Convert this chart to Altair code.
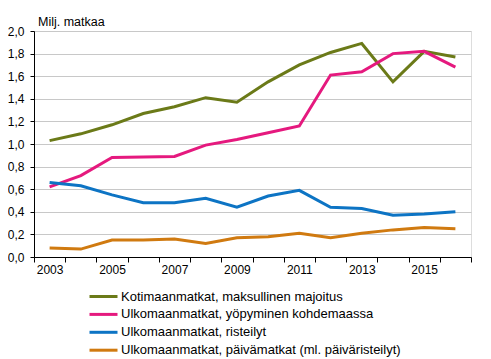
import altair as alt
import pandas as pd

years = list(range(2003, 2017))
series_names = [
    "Kotimaanmatkat, maksullinen majoitus",
    "Ulkomaanmatkat, yöpyminen kohdemaassa",
    "Ulkomaanmatkat, risteilyt",
    "Ulkomaanmatkat, päivämatkat (ml. päiväristeilyt)",
]
kotimaan = [1.03, 1.09, 1.17, 1.27, 1.33, 1.41, 1.37, 1.55, 1.70, 1.81, 1.89, 1.55, 1.82, 1.77]
ulk_yopyminen = [0.62, 0.72, 0.88, 0.885, 0.89, 0.99, 1.04, 1.10, 1.16, 1.61, 1.64, 1.80, 1.82, 1.68]
ulk_risteilyt = [0.66, 0.63, 0.55, 0.48, 0.48, 0.52, 0.44, 0.54, 0.59, 0.44, 0.43, 0.37, 0.38, 0.40]
ulk_paiva = [0.08, 0.07, 0.15, 0.15, 0.16, 0.12, 0.17, 0.18, 0.21, 0.17, 0.21, 0.24, 0.26, 0.25]
colors = ["#6b7a18", "#e5197e", "#0d74c4", "#d07a10"]

all_values = [kotimaan, ulk_yopyminen, ulk_risteilyt, ulk_paiva]
rows = []
for name, vals in zip(series_names, all_values):
    for y, v in zip(years, vals):
        rows.append({"vuosi": y, "arvo": v, "sarja": name})
df = pd.DataFrame(rows)

tick_values = [y - 0.5 for y in years] + [years[-1] + 0.5] + [y for y in years if y % 2 == 1]
font = "Liberation Sans"

chart = alt.Chart(df).mark_line(strokeWidth=3).encode(
    x=alt.X(
        "vuosi:Q",
        scale=alt.Scale(domain=[2002.5, 2016.5], nice=False, zero=False),
        axis=alt.Axis(
            title=None,
            values=tick_values,
            grid=False,
            labelExpr="datum.value % 1 === 0 ? format(datum.value, 'd') : ''",
            tickOpacity={"condition": {"test": "datum.value % 1 === 0", "value": 0}, "value": 1},
            tickSize=5,
            labelPadding=2,
            labelFontSize=12,
            labelFont=font,
            labelColor="#000000",
            domainColor="#000000",
            tickColor="#000000",
            labelOverlap=False,
        ),
    ),
    y=alt.Y(
        "arvo:Q",
        scale=alt.Scale(domain=[0, 2.0], nice=False),
        axis=alt.Axis(
            title=None,
            values=[0, 0.2, 0.4, 0.6, 0.8, 1.0, 1.2, 1.4, 1.6, 1.8, 2.0],
            format=".1f",
            labelExpr="replace(datum.label, '.', ',')",
            tickSize=4,
            labelPadding=6,
            labelFontSize=12,
            labelFont=font,
            labelColor="#000000",
            domainColor="#000000",
            tickColor="#000000",
            gridColor="#c8c8c8",
            gridWidth=1,
        ),
    ),
    color=alt.Color(
        "sarja:N",
        scale=alt.Scale(domain=series_names, range=colors),
        sort=series_names,
        legend=alt.Legend(
            title=None,
            orient="none",
            legendX=61,
            legendY=257,
            direction="vertical",
            symbolType="M-2,0L2,0",
            symbolSize=196,
            symbolStrokeWidth=3,
            labelFont=font,
            labelFontSize=13,
            labelColor="#000000",
            labelOffset=9,
            rowPadding=1.9,
            labelLimit=400,
        ),
    ),
).properties(
    width=437,
    height=226,
    title=alt.TitleParams(
        "Milj. matkaa",
        anchor="start",
        frame="group",
        font=font,
        fontSize=12.5,
        fontWeight="normal",
        color="#000000",
        dx=4,
        dy=11,
        offset=8,
    ),
    padding={"left": 26, "top": 23, "right": 12, "bottom": 100},
    autosize=alt.AutoSizeParams(type="none"),
).configure_view(stroke=None).configure(background="#ffffff")

chart.save("out.html", embed_options={"renderer": "svg", "actions": False})
